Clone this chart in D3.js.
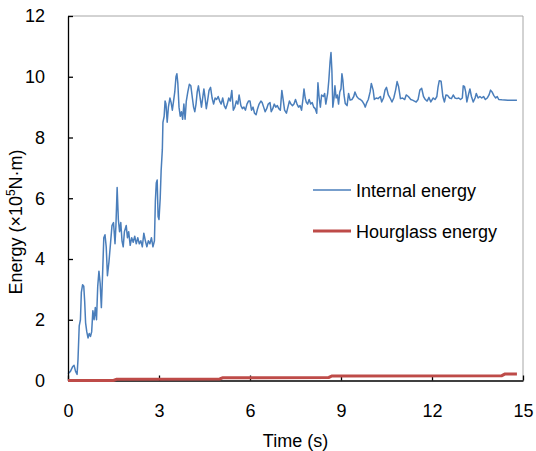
<!DOCTYPE html>
<html>
<head>
<meta charset="utf-8">
<script src="https://cdn.jsdelivr.net/npm/d3@7"></script>
<style>
  body { margin: 0; background: #fff; }
  text { font-family: Arial, "Liberation Sans", sans-serif; fill: #000; }
</style>
</head>
<body>
<div id="chart"></div>
<script>
// internal energy (time in s, energy in 1e5 N·m)
var internalTime = [0.00,0.08,0.15,0.20,0.25,0.30,0.33,0.37,0.41,0.44,0.48,0.52,0.55,0.58,0.62,0.66,0.70,0.74,0.78,0.82,0.86,0.90,0.94,0.98,
  1.02,1.06,1.10,1.14,1.18,1.22,1.26,1.30,1.35,1.40,1.45,1.50,1.55,1.58,1.62,1.66,1.70,1.74,1.78,1.82,1.86,1.92,1.96,
  2.00,2.05,2.10,2.15,2.20,2.25,2.30,2.35,2.40,2.45,2.50,2.55,2.60,2.65,2.70,2.75,2.80,2.85,2.88,2.91,2.94,2.97,
  3.00,3.04,3.07,3.11,3.13,3.17,3.20,3.23,3.27,3.31,3.36,3.40,3.44,3.48,3.52,3.56,3.59,3.62,3.66,3.70,3.74,3.78,3.82,3.86,3.90,3.95,
  4.00,4.05,4.10,4.14,4.18,4.22,4.26,4.30,4.35,4.40,4.44,4.48,4.52,4.56,4.60,4.65,4.70,4.75,4.80,4.85,4.90,4.95,
  5.00,5.05,5.10,5.15,5.20,5.25,5.30,5.35,5.40,5.45,5.50,5.55,5.60,5.64,5.70,5.75,5.80,5.85,5.90,5.95,
  6.00,6.05,6.10,6.15,6.20,6.25,6.30,6.36,6.40,6.45,6.50,6.55,6.60,6.66,6.70,6.75,6.80,6.85,6.90,6.95,
  7.00,7.05,7.10,7.14,7.20,7.25,7.30,7.35,7.40,7.45,7.50,7.55,7.60,7.65,7.70,7.75,7.78,7.82,7.86,7.90,7.95,
  8.00,8.05,8.10,8.15,8.20,8.24,8.28,8.32,8.36,8.42,8.46,8.50,8.56,8.60,8.64,8.67,8.70,8.73,8.77,8.80,8.84,8.88,8.92,8.96,
  9.00,9.03,9.06,9.10,9.14,9.20,9.25,9.30,9.36,9.42,9.46,9.52,9.58,9.64,9.70,9.76,9.80,9.85,9.90,9.96,
  10.00,10.06,10.10,10.16,10.22,10.30,10.34,10.40,10.45,10.50,10.56,10.62,10.68,10.74,10.80,10.85,10.90,10.96,
  11.03,11.10,11.15,11.22,11.30,11.36,11.42,11.48,11.54,11.60,11.66,11.72,11.78,11.84,11.90,11.96,
  12.04,12.10,12.16,12.20,12.24,12.30,12.36,12.41,12.46,12.52,12.58,12.64,12.70,12.76,12.82,12.88,12.94,
  13.00,13.03,13.07,13.11,13.15,13.20,13.25,13.30,13.36,13.42,13.46,13.52,13.58,13.64,13.70,13.76,13.82,13.88,13.93,13.98,
  14.04,14.10,14.15,14.20,14.30,14.50,14.80];
var internalEnergy = [0.22,0.3,0.45,0.5,0.3,0.2,0.7,1.8,2.0,2.9,3.15,3.1,2.6,1.9,1.6,1.4,1.55,1.45,1.6,2.3,2.0,2.4,2.0,3.1,
  3.6,3.2,2.4,3.5,4.7,4.8,4.4,3.45,3.9,4.5,5.1,5.2,4.5,5.1,6.35,5.3,4.9,5.2,4.6,4.4,4.9,5.1,4.7,
  4.9,4.45,4.7,4.55,4.75,4.5,4.7,4.5,4.6,4.4,4.85,4.6,4.4,4.6,4.5,4.7,4.4,4.6,5.9,6.5,6.6,5.4,
  5.3,6.0,6.9,7.6,8.5,8.7,9.2,9.1,8.5,9.0,9.3,9.15,8.9,9.2,9.5,10.0,10.1,9.8,9.0,8.7,8.85,8.6,9.1,8.6,9.2,9.5,
  9.75,9.7,9.3,9.0,8.85,9.1,9.5,9.7,9.35,9.0,9.3,9.6,9.3,8.95,9.2,9.55,9.65,9.3,9.1,9.3,9.25,9.35,
  9.2,9.1,9.3,9.05,8.95,9.1,9.3,9.2,9.55,8.9,9.0,9.2,9.1,9.4,9.05,8.95,9.0,8.9,9.1,9.2,
  9.2,8.9,9.0,8.8,8.75,8.95,9.1,9.2,9.15,9.0,8.85,8.95,9.1,9.15,8.85,8.95,9.1,9.0,9.05,8.95,
  8.9,9.55,9.2,8.9,8.8,9.0,9.2,9.1,9.05,9.1,9.25,9.1,9.0,9.05,8.9,9.3,9.6,9.3,9.15,9.1,9.25,
  9.1,9.15,9.0,8.95,8.8,9.8,9.3,9.0,9.4,9.35,9.45,9.1,9.45,9.9,10.5,10.8,10.2,9.0,9.3,9.7,9.3,9.4,9.1,9.5,
  9.6,10.1,9.9,9.4,9.12,9.05,9.45,9.23,9.25,9.35,9.5,9.35,9.28,9.25,9.2,9.1,9.0,9.15,9.25,9.5,
  9.78,9.56,9.25,9.3,9.28,9.35,9.17,9.3,9.56,9.65,9.4,9.3,9.17,9.3,9.56,9.84,9.67,9.28,
  9.3,9.25,9.4,9.35,9.25,9.23,9.2,9.17,9.25,9.56,9.62,9.35,9.25,9.2,9.32,9.17,
  9.3,9.25,9.35,9.67,9.87,9.85,9.34,9.17,9.4,9.38,9.3,9.28,9.4,9.3,9.28,9.3,9.25,
  9.3,9.7,9.68,9.5,9.17,9.4,9.6,9.35,9.17,9.3,9.45,9.3,9.35,9.3,9.35,9.25,9.3,9.4,9.56,9.5,
  9.38,9.3,9.35,9.25,9.24,9.23,9.23];

// hourglass energy (small steps)
var hourglassTime = [0, 1.50, 1.60, 5.00, 5.10, 8.60, 8.70, 14.30, 14.40, 14.80];
var hourglassEnergy = [0, 0, 0.04, 0.05, 0.09, 0.10, 0.15, 0.16, 0.21, 0.21];

var xTicks = [0, 3, 6, 9, 12, 15];
var yTicks = [0, 2, 4, 6, 8, 10, 12];
var legendNames = ["Internal energy", "Hourglass energy"];

var width = 536, height = 451;
var plotLeft = 68, plotRight = 523, plotTop = 16, plotBottom = 380.5;
var colors = ["#4A7EBB", "#BE4B48"];

var svg = d3.select("#chart").append("svg")
  .attr("width", width)
  .attr("height", height);

var x = d3.scaleLinear().domain([0, 15]).range([plotLeft, plotRight]);
var y = d3.scaleLinear().domain([0, 12]).range([plotBottom, plotTop]);

// frame: grey top and right edges
svg.append("path")
  .attr("d", "M" + plotLeft + "," + plotTop + "H" + plotRight + "V" + plotBottom)
  .attr("fill", "none")
  .attr("stroke", "#a6a6a6")
  .attr("stroke-width", 1);

var line = d3.line()
  .x(function(d) { return x(d[0]); })
  .y(function(d) { return y(d[1]); });

var internal = internalTime.map(function(t, i) { return [t, internalEnergy[i]]; });
var hourglass = hourglassTime.map(function(t, i) { return [t, hourglassEnergy[i]]; });

svg.append("path")
  .datum(internal)
  .attr("d", line)
  .attr("fill", "none")
  .attr("stroke", colors[0])
  .attr("stroke-width", 1.5)
  .attr("stroke-linejoin", "round");

// axes, ticks pointing inward
var xAxis = svg.append("g")
  .attr("transform", "translate(0," + plotBottom + ")")
  .call(d3.axisBottom(x).tickValues(xTicks).tickSizeInner(-5).tickSizeOuter(0).tickPadding(24));
var yAxis = svg.append("g")
  .attr("transform", "translate(" + plotLeft + ",0)")
  .call(d3.axisLeft(y).tickValues(yTicks).tickSizeInner(-5).tickSizeOuter(0).tickPadding(23));

[xAxis, yAxis].forEach(function(a) {
  a.select(".domain").attr("stroke", "#000").attr("stroke-width", 1.3);
  a.selectAll(".tick line").attr("stroke", "#000").attr("stroke-width", 1.3);
  a.selectAll(".tick text")
    .style("font-family", "Arial, 'Liberation Sans', sans-serif")
    .style("font-size", "18px")
    .attr("fill", "#000");
});

svg.append("path")
  .datum(hourglass)
  .attr("d", line)
  .attr("fill", "none")
  .attr("stroke", colors[1])
  .attr("stroke-width", 3);

// axis titles
svg.append("text")
  .attr("x", (plotLeft + plotRight) / 2)
  .attr("y", 447)
  .attr("text-anchor", "middle")
  .style("font-size", "18px")
  .text("Time (s)");

var yTitle = svg.append("text")
  .attr("transform", "translate(22," + 222 + ") rotate(-90)")
  .attr("text-anchor", "middle")
  .style("font-size", "18px");
yTitle.append("tspan").text("Energy (×10");
yTitle.append("tspan").attr("baseline-shift", "super").style("font-size", "12px").text("5");
yTitle.append("tspan").text("N·m)");

// legend
var legend = svg.append("g");
legendNames.forEach(function(name, i) {
  var ly = 190 + i * 41;
  legend.append("line")
    .attr("x1", 313).attr("x2", 351)
    .attr("y1", ly).attr("y2", ly)
    .attr("stroke", colors[i])
    .attr("stroke-width", i === 0 ? 1.5 : 3);
  legend.append("text")
    .attr("x", 356)
    .attr("y", ly + 7)
    .style("font-size", "18px")
    .text(name);
});
</script>
</body>
</html>
